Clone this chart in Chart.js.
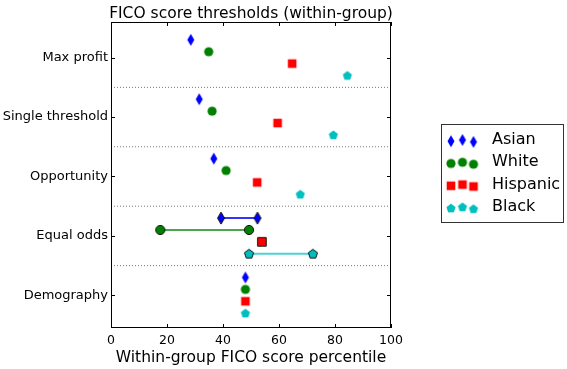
<!DOCTYPE html>
<html>
<head>
<meta charset="utf-8">
<script src="https://cdn.jsdelivr.net/npm/chart.js@4.4.1/dist/chart.umd.min.js"></script>
<style>
  html, body { margin: 0; padding: 0; background: #fff; }
</style>
</head>
<body>
<canvas id="myChart" width="567" height="369"></canvas>
<script>
// categories (top to bottom) and groups
const methods = ['Max profit', 'Single threshold', 'Opportunity', 'Equal odds', 'Demography'];
const groupNames = ['Asian', 'White', 'Hispanic', 'Black'];

// threshold percentiles per method; equal odds is a pair (range)
const asian    = [28.5, 31.5, 36.7, [39.3, 52.3], 48.0];
const white    = [34.9, 36.1, 41.1, [17.6, 49.3], 48.0];
const hispanic = [64.7, 59.5, 52.2, [53.9], 48.0];
const black    = [84.4, 79.4, 67.6, [49.3, 72.1], 48.0];

const xTicks = [0, 20, 40, 60, 80, 100];
const chartTitle = 'FICO score thresholds (within-group)';
const xTitle = 'Within-group FICO score percentile';

const groupValues = [asian, white, hispanic, black];
const styles = [
    {shape: 'diamond',  color: '#0000ff', line: 'rgba(0,0,255,0.8)'},
    {shape: 'circle',   color: '#008000', line: 'rgba(0,128,0,0.7)'},
    {shape: 'square',   color: '#ff0000', line: 'rgba(255,0,0,0.7)'},
    {shape: 'pentagon', color: '#00bfbf', line: 'rgba(0,191,191,0.7)'}
];
const rowOffset = [-0.3, -0.1, 0.1, 0.3];
const FONT = '"DejaVu Sans"';

function marker(shape, fill, edge) {
    const s = 16;
    const c = document.createElement('canvas');
    c.width = s; c.height = s;
    const g = c.getContext('2d');
    g.translate(s / 2, s / 2);
    g.beginPath();
    if (shape === 'circle') {
        g.arc(0, 0, 4.6, 0, Math.PI * 2);
    } else if (shape === 'square') {
        g.rect(-4.3, -4.3, 8.6, 8.6);
    } else if (shape === 'diamond') {
        g.moveTo(0, -6); g.lineTo(3.5, 0); g.lineTo(0, 6); g.lineTo(-3.5, 0); g.closePath();
    } else {
        for (let i = 0; i < 5; i++) {
            const a = -Math.PI / 2 + i * 2 * Math.PI / 5;
            const px = 4.8 * Math.cos(a), py = 4.8 * Math.sin(a) + 0.4;
            if (i === 0) g.moveTo(px, py); else g.lineTo(px, py);
        }
        g.closePath();
    }
    g.fillStyle = fill;
    g.fill();
    if (edge) { g.lineWidth = 1; g.strokeStyle = edge; g.stroke(); }
    return c;
}

const plainMarkers = styles.map(st => marker(st.shape, st.color));
const edgeMarkers = styles.map(st => marker(st.shape, st.color, '#111'));

let datasets = [];

// dotted separators between methods
for (let k = 0; k < methods.length - 1; k++) {
    datasets.push({
        data: [{x: xTicks[0], y: k + 0.5}, {x: xTicks[xTicks.length - 1], y: k + 0.5}],
        showLine: true, pointRadius: 0, borderColor: '#777', borderWidth: 1,
        borderDash: [1, 2]
    });
}

groupValues.forEach((vals, gi) => {
    let pts = [];
    vals.forEach((v, mi) => {
        if (!Array.isArray(v)) pts.push({x: v, y: mi + rowOffset[gi]});
    });
    datasets.push({
        label: groupNames[gi], data: pts, showLine: false,
        pointStyle: plainMarkers[gi], pointRadius: 5
    });
    vals.forEach((v, mi) => {
        if (Array.isArray(v)) {
            datasets.push({
                data: v.map(x => ({x: x, y: mi + rowOffset[gi]})),
                showLine: true, borderColor: styles[gi].line, borderWidth: 2,
                pointStyle: edgeMarkers[gi], pointRadius: 5
            });
        }
    });
});

const frame = {
    id: 'frame',
    afterDatasetsDraw(chart) {
        const {ctx, chartArea: a, scales: {x, y}} = chart;
        ctx.save();
        ctx.strokeStyle = '#000';
        ctx.lineWidth = 1;
        ctx.strokeRect(a.left + 0.5, a.top + 0.5, a.right - a.left - 1, a.bottom - a.top - 1);
        ctx.beginPath();
        xTicks.forEach(v => {
            const px = Math.round(x.getPixelForValue(v)) + 0.5;
            ctx.moveTo(px, a.bottom); ctx.lineTo(px, a.bottom - 4);
            ctx.moveTo(px, a.top); ctx.lineTo(px, a.top + 4);
        });
        methods.forEach((m, i) => {
            const py = Math.round(y.getPixelForValue(i)) + 0.5;
            ctx.moveTo(a.left, py); ctx.lineTo(a.left + 4, py);
            ctx.moveTo(a.right, py); ctx.lineTo(a.right - 4, py);
        });
        ctx.stroke();
        ctx.restore();
    },
    afterDraw(chart) {
        const {ctx, chartArea: a} = chart;
        ctx.save();
        ctx.fillStyle = '#000';
        ctx.font = '15.5px ' + FONT;
        ctx.textAlign = 'center';
        ctx.textBaseline = 'alphabetic';
        const cx = (a.left + a.right) / 2;
        ctx.fillText(chartTitle, cx, 17.5);
        ctx.fillText(xTitle, cx, 361.5);

        // legend
        ctx.strokeStyle = '#333';
        ctx.strokeRect(441.5, 124.5, 122, 98);
        ctx.font = '16px ' + FONT;
        ctx.textAlign = 'left';
        ctx.textBaseline = 'middle';
        const dy = [1.2, 0, 1.9];
        groupNames.forEach((name, gi) => {
            const cy = 140 + gi * 22.3;
            [451, 462.5, 473.5].forEach((mx, j) => {
                ctx.drawImage(plainMarkers[gi], mx - 8, cy + dy[j] - 8);
            });
            ctx.fillText(name, 492, cy);
        });
        ctx.restore();
    }
};

const ctx = document.getElementById('myChart').getContext('2d');
const myChart = new Chart(ctx, {
    type: 'scatter',
    data: {datasets: datasets},
    options: {
        responsive: false,
        animation: false,
        layout: {padding: {left: 0, right: 176, top: 22, bottom: 0}},
        plugins: {
            legend: {display: false},
            tooltip: {enabled: false},
            title: {display: false}
        },
        scales: {
            x: {
                type: 'linear', min: 0, max: 100,
                grid: {display: false, drawTicks: false, tickLength: 0},
                border: {display: false},
                afterBuildTicks: s => { s.ticks = xTicks.map(v => ({value: v})); },
                ticks: {color: '#000', font: {family: 'DejaVu Sans', size: 12.5}, padding: 5, maxRotation: 0},
                afterFit: s => { s.height = 41; }
            },
            y: {
                type: 'linear', min: -0.6, max: 4.55, reverse: true,
                grid: {display: false, drawTicks: false, tickLength: 0},
                border: {display: false},
                afterBuildTicks: s => { s.ticks = methods.map((m, i) => ({value: i})); },
                ticks: {
                    color: '#000', font: {family: 'DejaVu Sans', size: 13}, padding: 3,
                    callback: v => methods[v]
                },
                afterFit: s => { s.width = 111; }
            }
        }
    },
    plugins: [frame]
});
</script>
</body>
</html>
